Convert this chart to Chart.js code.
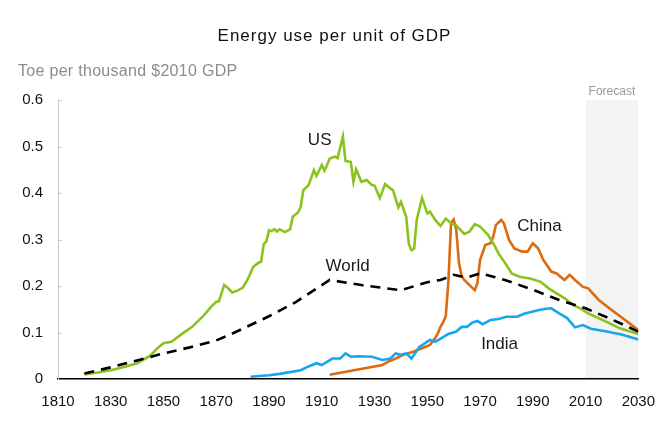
<!DOCTYPE html>
<html>
<head>
<meta charset="utf-8">
<script src="https://cdn.jsdelivr.net/npm/chart.js@4.4.1/dist/chart.umd.min.js"></script>
<style>
  html, body { margin: 0; padding: 0; background: #fff; }
  #wrap { position: relative; width: 669px; height: 422px; font-family: "Liberation Sans", Arial, sans-serif; }
  #title { position: absolute; left: 0; width: 669px; top: 27px; text-align: center; font-size: 17px; line-height: 17px; letter-spacing: 1px; color: #111; }
  #subtitle { position: absolute; left: 18px; top: 63px; font-size: 16px; line-height: 16px; letter-spacing: 0.3px; color: #8c8c8c; }
  canvas { position: absolute; left: 0; top: 0; }
</style>
</head>
<body>
<div id="wrap">
  <canvas id="chart" width="669" height="422"></canvas>
  <div id="title">Energy use per unit of GDP</div>
  <div id="subtitle">Toe per thousand $2010 GDP</div>
</div>
<script>
// --- DATA ---
const usYears = [1820, 1825, 1830, 1835, 1840, 1845, 1848, 1850, 1853, 1857, 1861, 1865, 1868, 1870, 1871,
  1873, 1874, 1876, 1878, 1880, 1882, 1884, 1886, 1887, 1888, 1889, 1890, 1891, 1892, 1893, 1894, 1896,
  1898, 1899, 1901, 1902, 1903, 1905, 1907, 1908, 1910, 1911, 1912, 1913, 1915, 1916, 1918, 1919, 1921,
  1922, 1923, 1925, 1927, 1929, 1930, 1932, 1934, 1936, 1937, 1939, 1940, 1942, 1943, 1944, 1945, 1946,
  1948, 1950, 1951, 1953, 1955, 1957, 1959, 1961, 1963, 1964, 1966, 1968, 1970, 1973, 1975, 1977, 1980,
  1982, 1985, 1989, 1993, 1996, 1999, 2002, 2005, 2008, 2011, 2018, 2023, 2030];
const usValues = [0.010, 0.014, 0.019, 0.026, 0.034, 0.050, 0.068, 0.077, 0.080, 0.097, 0.113, 0.135, 0.155, 0.166, 0.167,
  0.202, 0.198, 0.186, 0.190, 0.196, 0.215, 0.241, 0.250, 0.252, 0.290, 0.296, 0.320, 0.318, 0.322, 0.317, 0.322, 0.316,
  0.322, 0.349, 0.358, 0.370, 0.406, 0.417, 0.449, 0.437, 0.460, 0.448, 0.460, 0.474, 0.478, 0.475, 0.521, 0.469, 0.467,
  0.424, 0.451, 0.424, 0.428, 0.417, 0.416, 0.389, 0.419, 0.410, 0.406, 0.369, 0.381, 0.349, 0.290, 0.277, 0.280, 0.342,
  0.389, 0.356, 0.360, 0.342, 0.329, 0.345, 0.335, 0.330, 0.318, 0.312, 0.317, 0.333, 0.328, 0.310, 0.292, 0.270, 0.245,
  0.227, 0.220, 0.216, 0.209, 0.195, 0.184, 0.174, 0.160, 0.152, 0.141, 0.123, 0.109, 0.097];

const chinaYears = [1913, 1933, 1935, 1938, 1941, 1945, 1951, 1953, 1954, 1955, 1956, 1957, 1958, 1959, 1960, 1961,
  1962, 1963, 1964, 1966, 1968, 1969, 1970, 1972, 1974, 1975, 1976, 1978, 1979, 1981, 1983, 1986, 1988, 1990,
  1992, 1994, 1997, 1999, 2002, 2004, 2006, 2009, 2011, 2015, 2020, 2025, 2030];
const chinaValues = [0.009, 0.030, 0.037, 0.044, 0.052, 0.059, 0.073, 0.088, 0.098, 0.112, 0.122, 0.135, 0.210, 0.335, 0.343, 0.320,
  0.250, 0.222, 0.213, 0.202, 0.191, 0.206, 0.256, 0.288, 0.292, 0.306, 0.331, 0.342, 0.335, 0.299, 0.281, 0.274, 0.274, 0.292,
  0.281, 0.256, 0.231, 0.227, 0.213, 0.224, 0.213, 0.198, 0.195, 0.170, 0.148, 0.127, 0.105];

const indiaYears = [1883, 1890, 1894, 1902, 1905, 1908, 1910, 1912, 1914, 1917, 1919, 1921, 1924, 1929, 1933, 1936,
  1938, 1940, 1942, 1944, 1947, 1951, 1953, 1956, 1958, 1961, 1963, 1965, 1967, 1969, 1971, 1974, 1977, 1980,
  1984, 1987, 1992, 1995, 1997, 2000, 2003, 2006, 2009, 2012, 2018, 2024, 2030];
const indiaValues = [0.005, 0.008, 0.011, 0.019, 0.027, 0.034, 0.030, 0.037, 0.044, 0.044, 0.055, 0.048, 0.049, 0.048, 0.041, 0.044,
  0.055, 0.052, 0.055, 0.044, 0.069, 0.084, 0.080, 0.090, 0.097, 0.102, 0.112, 0.112, 0.121, 0.125, 0.118, 0.127, 0.129, 0.134,
  0.134, 0.141, 0.148, 0.151, 0.152, 0.141, 0.131, 0.111, 0.116, 0.108, 0.102, 0.095, 0.085];

const worldYears = [1820, 1830, 1840, 1850, 1860, 1870, 1875, 1880, 1890, 1900, 1913, 1925, 1940, 1950, 1955,
  1960, 1965, 1970, 1975, 1980, 1990, 2000, 2010, 2020, 2030];
const worldValues = [0.012, 0.025, 0.040, 0.055, 0.068, 0.083, 0.095, 0.108, 0.135, 0.165, 0.213, 0.202, 0.191, 0.208, 0.213,
  0.224, 0.218, 0.227, 0.220, 0.212, 0.192, 0.170, 0.152, 0.128, 0.102];

const xTicks = [1810, 1830, 1850, 1870, 1890, 1910, 1930, 1950, 1970, 1990, 2010, 2030];
const yTicks = [0, 0.1, 0.2, 0.3, 0.4, 0.5, 0.6];
const forecastRange = [2010, 2030];

// series labels placed at data coordinates
const seriesLabels = [
  { text: 'US', x: 1909.2, y: 0.514 },
  { text: 'World', x: 1919.8, y: 0.243 },
  { text: 'China', x: 1992.5, y: 0.329 },
  { text: 'India', x: 1977.4, y: 0.075 }
];

function toPoints(xs, ys) {
  return xs.map((x, i) => ({ x: x, y: ys[i] }));
}

// shaded forecast band + its label, drawn before the axes so the x axis stays on top
const forecastPlugin = {
  id: 'forecast',
  beforeDraw(chart) {
    const { ctx, chartArea, scales } = chart;
    const x0 = scales.x.getPixelForValue(forecastRange[0]);
    const x1 = scales.x.getPixelForValue(forecastRange[1]);
    ctx.save();
    ctx.fillStyle = '#f3f3f3';
    ctx.fillRect(x0, chartArea.top, x1 - x0, chartArea.bottom - chartArea.top);
    ctx.fillStyle = '#999';
    ctx.font = '12px "Liberation Sans", Arial, sans-serif';
    ctx.textAlign = 'center';
    ctx.textBaseline = 'bottom';
    ctx.fillText('Forecast', (x0 + x1) / 2, chartArea.top - 2);
    ctx.restore();
  }
};

// small y tick marks pointing into the plot, plus the series names
const decorPlugin = {
  id: 'decor',
  afterDatasetsDraw(chart) {
    const { ctx, chartArea, scales } = chart;
    ctx.save();
    ctx.strokeStyle = '#c8c8c8';
    ctx.lineWidth = 1;
    yTicks.forEach(v => {
      if (v === 0) return;
      const y = Math.round(scales.y.getPixelForValue(v)) + 0.5;
      ctx.beginPath();
      ctx.moveTo(chartArea.left, y);
      ctx.lineTo(chartArea.left + 4, y);
      ctx.stroke();
    });
    ctx.fillStyle = '#1a1a1a';
    ctx.font = '17px "Liberation Sans", Arial, sans-serif';
    ctx.textAlign = 'center';
    ctx.textBaseline = 'middle';
    seriesLabels.forEach(l => {
      ctx.fillText(l.text, scales.x.getPixelForValue(l.x), scales.y.getPixelForValue(l.y));
    });
    ctx.restore();
  }
};

function lineSet(label, data, color, dash) {
  return {
    label: label,
    data: data,
    borderColor: color,
    borderWidth: 2.6,
    borderDash: dash || [],
    pointRadius: 0,
    tension: 0,
    fill: false
  };
}

const ctx = document.getElementById('chart').getContext('2d');
new Chart(ctx, {
  type: 'line',
  data: {
    datasets: [
      lineSet('World', toPoints(worldYears, worldValues), '#000', [10, 7]),
      lineSet('India', toPoints(indiaYears, indiaValues), '#16a6ec'),
      lineSet('US', toPoints(usYears, usValues), '#8cc21c'),
      lineSet('China', toPoints(chinaYears, chinaValues), '#dc6a0e')
    ]
  },
  options: {
    responsive: false,
    animation: false,
    layout: { padding: { top: 100, right: 30, bottom: 0, left: 0 } },
    plugins: {
      legend: { display: false },
      tooltip: { enabled: false }
    },
    scales: {
      x: {
        type: 'linear',
        min: 1810,
        max: 2030,
        afterBuildTicks: s => { s.ticks = xTicks.map(v => ({ value: v })); },
        afterFit: s => { s.height = 43; },
        grid: { display: true, drawOnChartArea: false, drawTicks: false },
        border: { color: '#000', width: 1.5 },
        ticks: {
          padding: 14,
          color: '#111',
          font: { family: '"Liberation Sans", Arial, sans-serif', size: 15 },
          callback: v => String(v),
          maxRotation: 0
        }
      },
      y: {
        min: 0,
        max: 0.6,
        afterBuildTicks: s => { s.ticks = yTicks.map(v => ({ value: v })); },
        afterFit: s => { s.width = 58; },
        grid: { display: true, drawOnChartArea: false, drawTicks: false },
        border: { color: '#c8c8c8', width: 1 },
        ticks: {
          padding: 15,
          color: '#111',
          font: { family: '"Liberation Sans", Arial, sans-serif', size: 15 },
          callback: v => (v === 0 ? '0' : v.toFixed(1))
        }
      }
    }
  },
  plugins: [forecastPlugin, decorPlugin]
});
</script>
</body>
</html>
